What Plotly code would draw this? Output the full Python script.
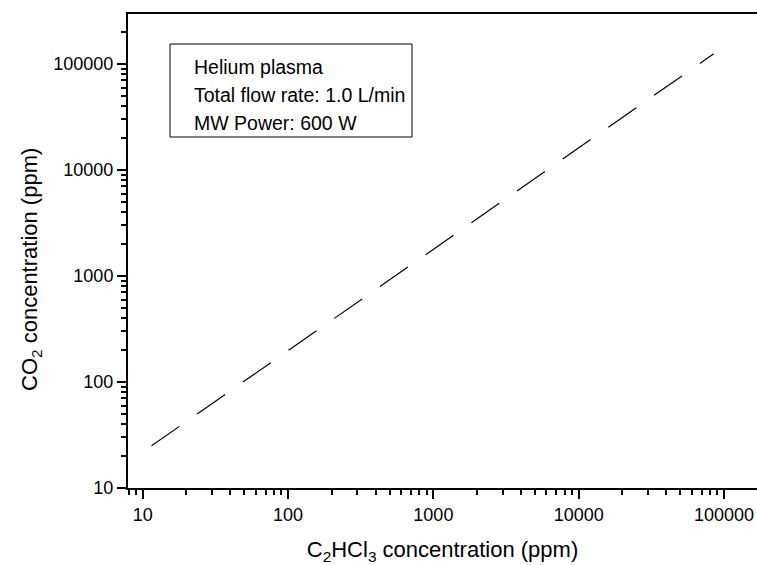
import plotly.graph_objects as go

# Data (log-log straight line)
x_c2hcl3 = [11.5, 85000]
y_co2 = [25, 125000]

x_tickvals = [10, 100, 1000, 10000, 100000]
x_ticktext = ["10", "100", "1000", "10000", "100000"]
y_tickvals = [10, 100, 1000, 10000, 100000]
y_ticktext = ["10", "100", "1000", "10000", "100000"]

info_lines = ["Helium plasma", "Total flow rate: 1.0 L/min", "MW Power: 600 W"]

FONT = "Liberation Sans, Arial, sans-serif"
W, H = 757, 565
L, R, T, B = 128, 0, 14, 77
pw, ph = W - L - R, H - T - B

def px2x(px):
    return (px - L) / pw

def py2y(py):
    return (H - B - py) / ph

fig = go.Figure()
fig.add_trace(go.Scatter(
    x=x_c2hcl3, y=y_co2, mode="lines",
    line=dict(color="black", width=1.2, dash="34px,21.7px"),
    showlegend=False, hoverinfo="skip",
))

axis_common = dict(
    type="log",
    showgrid=False, zeroline=False,
    showline=True, linecolor="black", linewidth=2,
    ticks="outside", ticklen=9, tickwidth=2, tickcolor="black",
    tickfont=dict(family=FONT, size=18, color="black"),
    minor=dict(ticks="outside", ticklen=5, tickwidth=1.5, tickcolor="black",
               dtick="D1", showgrid=False),
)

fig.update_xaxes(
    **axis_common,
    range=[0.8988, 5.227],
    tickvals=x_tickvals, ticktext=x_ticktext,
    mirror=True,
    title=dict(text="C<sub>2</sub>HCl<sub>3</sub> concentration (ppm)",
               font=dict(family=FONT, size=22, color="black"), standoff=18),
)
fig.update_yaxes(
    **axis_common,
    range=[1, 1 + ph / 106.0],
    tickvals=y_tickvals, ticktext=y_ticktext,
)

# y-axis title as annotation for precise placement
fig.add_annotation(
    xref="paper", yref="paper", x=px2x(31), y=py2y(270),
    text="CO<sub>2</sub> concentration (ppm)", textangle=-90,
    showarrow=False, xanchor="center", yanchor="middle",
    font=dict(family=FONT, size=22, color="black"),
)

# info box
fig.add_shape(
    type="rect", xref="paper", yref="paper",
    x0=px2x(170), x1=px2x(412), y0=py2y(137), y1=py2y(44),
    line=dict(color="black", width=1), fillcolor="white", layer="below",
)
for txt, ypx in zip(info_lines, [67, 95, 123]):
    fig.add_annotation(
        xref="paper", yref="paper", x=px2x(192), y=py2y(ypx),
        text=txt, showarrow=False, xanchor="left", yanchor="middle",
        font=dict(family=FONT, size=19.5, color="black"),
    )

fig.update_layout(
    width=W, height=H,
    margin=dict(l=L, r=R, t=T, b=B),
    paper_bgcolor="white", plot_bgcolor="white",
    font=dict(family=FONT, color="black"),
)

fig.write_html("out.html")
